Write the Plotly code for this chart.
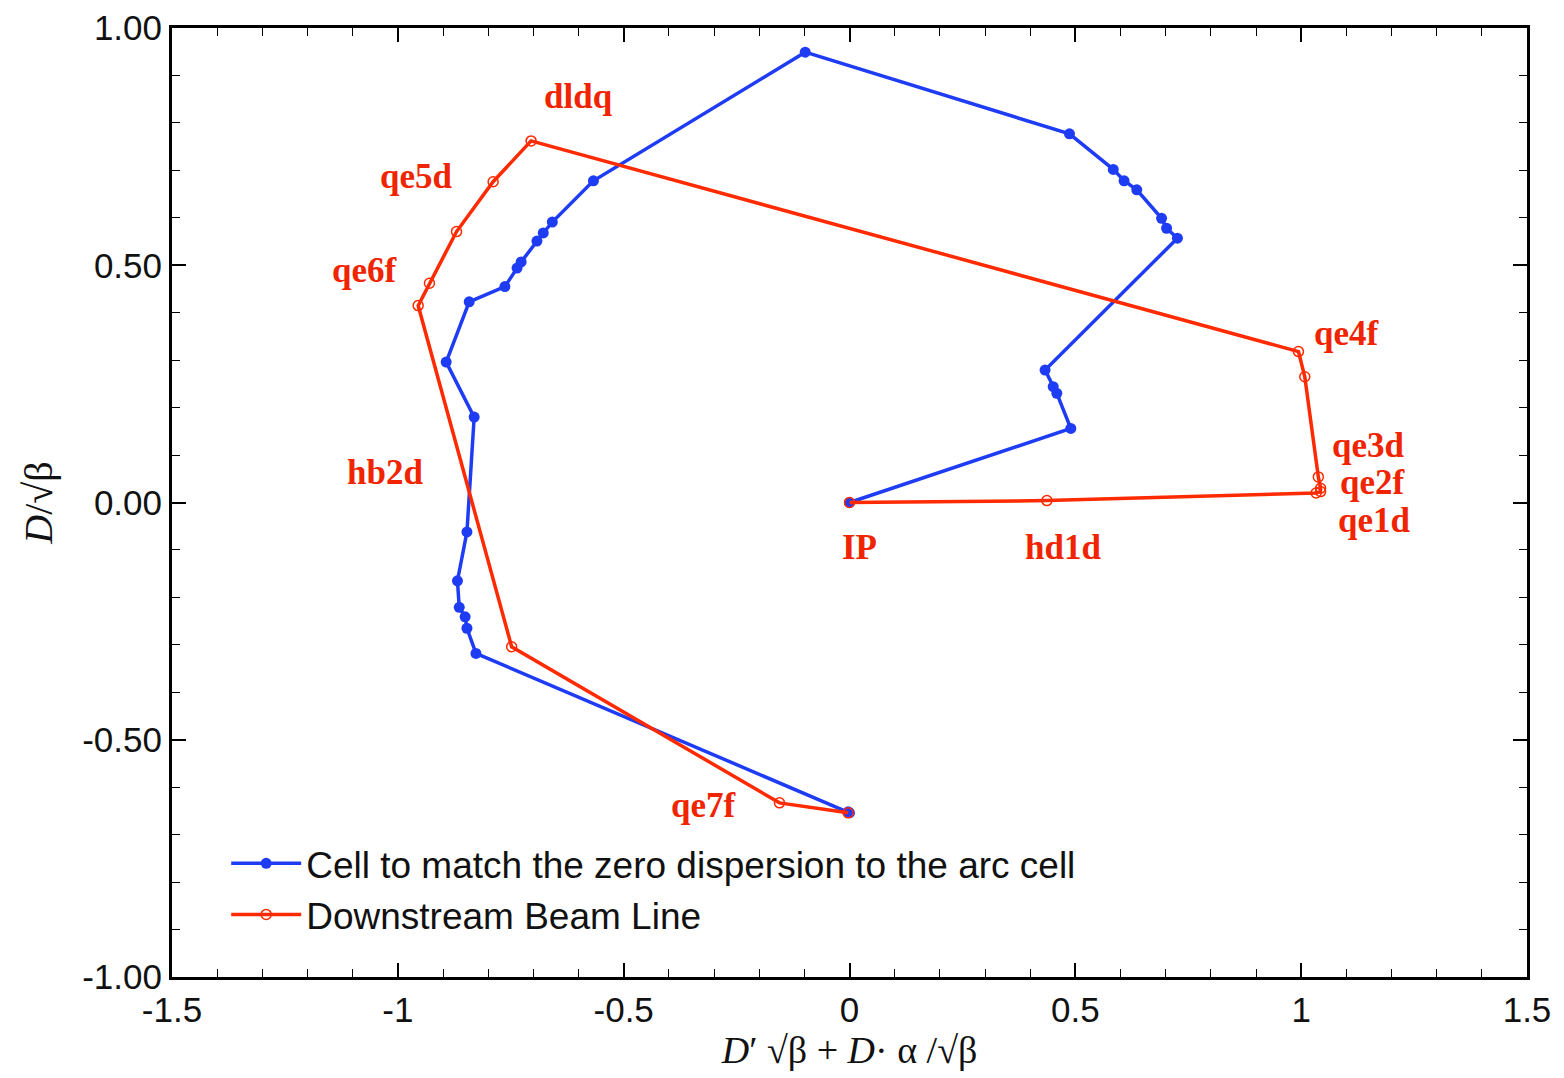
import plotly.graph_objects as go

# Blue: cell to match the zero dispersion to the arc cell
blue_x = [0.0, 0.490, 0.459, 0.451, 0.433, 0.726, 0.702, 0.691, 0.636, 0.608, 0.584, 0.487,
          -0.098, -0.567, -0.658, -0.678, -0.692, -0.727, -0.736, -0.763, -0.842, -0.893,
          -0.831, -0.847, -0.868, -0.864, -0.851, -0.847, -0.827, -0.003, 0.0]
blue_y = [0.0, 0.156, 0.230, 0.244, 0.279, 0.557, 0.578, 0.599, 0.659, 0.678, 0.702, 0.777,
          0.949, 0.678, 0.591, 0.568, 0.551, 0.507, 0.494, 0.455, 0.423, 0.296,
          0.180, -0.062, -0.165, -0.221, -0.241, -0.265, -0.318, -0.652, -0.654]

# Red: downstream beam line
red_x = [0.0, 0.437, 1.033, 1.043, 1.043, 1.038, 1.008, 0.994, -0.705, -0.789, -0.870,
         -0.930, -0.955, -0.748, -0.155, -0.003]
red_y = [0.0, 0.004, 0.020, 0.023, 0.030, 0.054, 0.265, 0.318, 0.762, 0.676, 0.571,
         0.462, 0.415, -0.304, -0.633, -0.654]

# Element labels
label_text = ["dldq", "qe5d", "qe6f", "hb2d", "IP", "hd1d", "qe4f", "qe3d", "qe2f", "qe1d", "qe7f"]
label_x = [-0.601, -0.958, -1.073, -1.028, 0.023, 0.473, 1.101, 1.148, 1.159, 1.163, -0.324]
label_y = [0.855, 0.686, 0.490, 0.064, -0.094, -0.094, 0.357, 0.121, 0.043, -0.037, -0.638]

x_ticks = [-1.5, -1, -0.5, 0, 0.5, 1, 1.5]
x_tick_text = ["-1.5", "-1", "-0.5", "0", "0.5", "1", "1.5"]
y_ticks = [-1.0, -0.5, 0.0, 0.5, 1.0]
y_tick_text = ["-1.00", "-0.50", "0.00", "0.50", "1.00"]

BLUE = "#1f3cf5"
RED = "#ff2a00"
LABEL_RED = "#f02400"

fig = go.Figure()
fig.add_trace(go.Scatter(
    x=blue_x, y=blue_y, mode="lines+markers",
    name="Cell to match the zero dispersion to the arc cell",
    line=dict(color=BLUE, width=3.5),
    marker=dict(color=BLUE, size=11, symbol="circle"),
))
fig.add_trace(go.Scatter(
    x=red_x, y=red_y, mode="lines+markers",
    name="Downstream Beam Line",
    line=dict(color=RED, width=3.5),
    marker=dict(color=RED, size=10, symbol="circle-open", line=dict(width=1.5)),
))

for t, x, y in zip(label_text, label_x, label_y):
    fig.add_annotation(x=x, y=y, text="<b>" + t + "</b>", showarrow=False,
                       font=dict(family="Liberation Serif", size=35, color=LABEL_RED),
                       xanchor="center", yanchor="middle")

axis_common = dict(
    showgrid=False, zeroline=False, showline=True, linecolor="black", linewidth=3,
    mirror="allticks", ticks="inside", ticklen=14, tickwidth=1.5, tickcolor="black",
    tickfont=dict(family="Liberation Sans", size=35, color="#111"),
    automargin=False,
)

fig.update_xaxes(range=[-1.5, 1.5], tickvals=x_ticks, ticktext=x_tick_text,
                 minor=dict(dtick=0.1, ticks="inside", ticklen=8, tickwidth=1.2, tickcolor="black"),
                 title=dict(text="<i>D</i>′ √β + <i>D</i>· α /√β",
                            font=dict(family="Liberation Serif", size=38, color="#111"), standoff=6),
                 **axis_common)
fig.update_yaxes(range=[-1.0, 1.0], tickvals=y_ticks, ticktext=y_tick_text,
                 minor=dict(dtick=0.1, ticks="inside", ticklen=8, tickwidth=1.2, tickcolor="black"),
                 title=dict(text="<i>D</i>/√β",
                            font=dict(family="Liberation Serif", size=40, color="#111"), standoff=18),
                 **axis_common)

fig.update_layout(
    width=1564, height=1078,
    margin=dict(l=172, r=37, t=28, b=101),
    plot_bgcolor="white", paper_bgcolor="white",
    legend=dict(x=0.04, y=0.152, xanchor="left", yanchor="top",
                bgcolor="rgba(0,0,0,0)", borderwidth=0,
                font=dict(family="Liberation Sans", size=37, color="#111"),
                itemwidth=70, tracegroupgap=0),
    showlegend=True,
)

fig.write_html("out.html")
